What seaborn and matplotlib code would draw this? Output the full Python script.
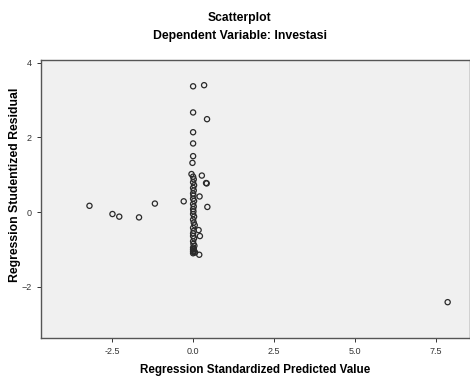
import numpy as np
import pandas as pd
import matplotlib
matplotlib.use("Agg")
import matplotlib.pyplot as plt
import seaborn as sns

# standardized predicted value (x) and studentized residual (y)
pred = [0.0, 0.34, 0.0, 0.43, 0.0, 0.0, 0.0, -0.02,
        -0.05, 0.27, 0.4, 0.42, 0.2, -0.29, 0.44,
        -3.2, -2.49, -2.28, -1.67, -1.18,
        0.17, 0.21, 0.0, 0.19, 7.86,
        0.0, 0.02, 0.0, 0.03, 0.0, 0.02, 0.0, 0.01, 0.0, 0.03,
        0.0, 0.02, 0.0, 0.01, 0.0, 0.03, 0.0, 0.02, 0.05, 0.0,
        0.02, 0.0, 0.03, 0.0, 0.01, 0.04, 0.0, 0.02, 0.0, 0.03,
        0.0, 0.01, 0.06, 0.0]
resid = [3.37, 3.4, 2.67, 2.49, 2.14, 1.84, 1.5, 1.32,
         1.02, 0.98, 0.78, 0.77, 0.42, 0.29, 0.14,
         0.17, -0.05, -0.12, -0.14, 0.23,
         -0.48, -0.64, -0.64, -1.14, -2.41,
         0.95, 0.88, 0.8, 0.72, 0.65, 0.58, 0.5, 0.44, 0.36, 0.3,
         0.22, 0.15, 0.08, 0.02, -0.05, -0.12, -0.2, -0.28, -0.35, -0.42,
         -0.5, -0.57, -0.7, -0.78, -0.85, -0.9, -0.95, -0.98, -1.0, -1.03,
         -1.05, -1.07, -1.08, -1.1]

df = pd.DataFrame({"pred": pred, "resid": resid})

sns.set_style("white")
plt.rcParams["font.family"] = ["Liberation Sans", "DejaVu Sans"]

fig = plt.figure(figsize=(4.7, 3.76), dpi=100)
ax = fig.add_axes([0.087, 0.101, 0.913, 0.739])
ax.set_facecolor("#f0f0f0")

sns.scatterplot(data=df, x="pred", y="resid", ax=ax, marker="o",
                facecolor="none", edgecolor="#2a2a2a", linewidth=0.9, s=14)

ax.set_xlim(-4.7, 8.55)
ax.set_ylim(-3.37, 4.07)
ax.set_xticks([-2.5, 0.0, 2.5, 5.0, 7.5])
ax.set_xticklabels(["-2.5", "0.0", "2.5", "5.0", "7.5"])
ax.set_yticks([-2, 0, 2, 4])
ax.tick_params(axis="both", labelsize=6.5, length=3, width=0.7, colors="#333333",
               direction="out", bottom=True, left=True)
for sp in ax.spines.values():
    sp.set_color("#555555")
    sp.set_linewidth(1.0)

ax.set_xlabel("Regression Standardized Predicted Value", fontsize=8.4, fontweight="bold",
              labelpad=6, color="black")
ax.set_ylabel("Regression Studentized Residual", fontsize=8.8, fontweight="bold",
              labelpad=4, color="black")
ax.yaxis.set_label_coords(-0.047, 0.55)

fig.text(0.51, 0.953, "Scatterplot", ha="center", va="center", fontsize=8.7,
         fontweight="bold", color="black")
fig.text(0.51, 0.905, "Dependent Variable: Investasi", ha="center", va="center",
         fontsize=8.8, fontweight="bold", color="black")

fig.savefig("out.png", dpi=100)
